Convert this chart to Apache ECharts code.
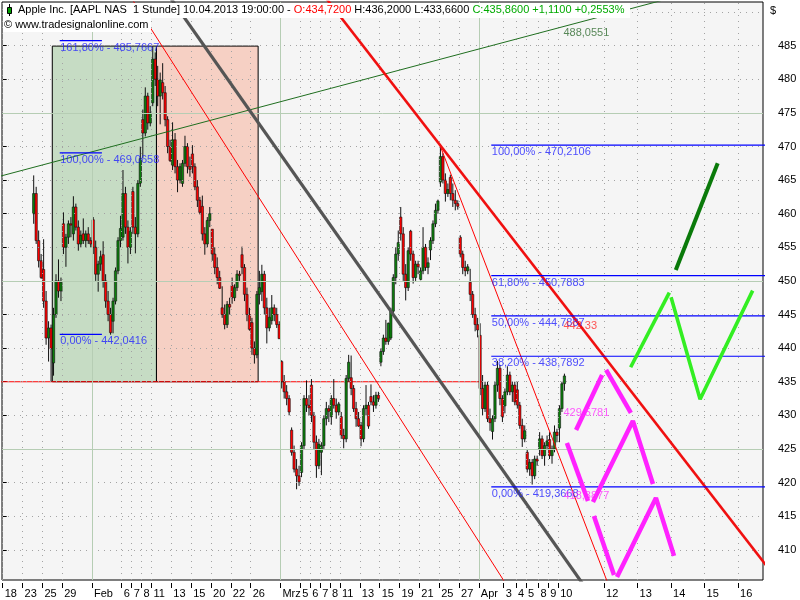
<!DOCTYPE html>
<html><head><meta charset="utf-8">
<script src="https://cdn.jsdelivr.net/npm/echarts@6/dist/echarts.min.js"></script>
<style>html,body{margin:0;padding:0;background:#fff}#c{width:800px;height:600px}</style>
</head><body><div id="c"></div>
<script>
// ---------- DATA ----------
const tradingDays = ['01-18','01-22','01-23','01-24','01-25','01-28','01-29','01-30','01-31','02-01','02-04','02-05','02-06','02-07','02-08','02-11','02-12','02-13','02-14','02-15','02-19','02-20','02-21','02-22','02-25','02-26','02-27','02-28','03-01','03-04','03-05','03-06','03-07','03-08','03-11','03-12','03-13','03-14','03-15','03-18','03-19','03-20','03-21','03-22','03-25','03-26','03-27','03-28','04-01','04-02','04-03','04-04','04-05','04-08','04-09','04-10'];
// intraday candles per trading day: [open, high, low, close]
const ohlcByDay = [
 [null,null,null,null],[null,null,null,null],[null,null,null,null],
 [[460.0,465.7,458.5,463.0],[463.0,464.0,455.5,456.0],[456.0,457.5,452.0,453.0],[453.0,454.0,450.3,450.5]],
 [[451.7,456.2,446.0,447.0],[447.0,448.5,440.5,441.5],[441.5,444.0,438.0,443.0],[443.0,443.5,435.0,439.9]],
 [[437.8,446.0,435.9,445.0],[445.0,451.0,444.5,450.0],[450.0,453.2,447.5,448.5],[448.5,450.5,447.0,449.8]],
 [[458.5,460.2,454.0,455.0],[455.0,457.0,452.1,456.5],[456.5,459.0,455.5,458.5],[458.5,459.5,456.5,458.3]],
 [[457.0,462.6,456.0,461.0],[461.0,461.5,457.5,458.0],[458.0,459.0,454.5,455.5],[455.5,457.5,455.0,456.8]],
 [[457.0,459.3,455.5,456.0],[456.0,457.5,455.0,457.0],[457.0,458.0,455.5,456.0],[456.0,456.5,455.0,455.5]],
 [[459.1,459.5,454.0,455.0],[455.0,456.0,450.0,451.0],[451.0,453.0,448.4,452.5],[452.5,454.5,451.5,453.6]],
 [[453.9,455.9,449.0,450.0],[450.0,451.0,446.0,447.0],[447.0,448.5,444.0,445.0],[445.0,446.0,442.0,442.3]],
 [[444.0,447.5,442.2,447.0],[447.0,452.0,446.5,451.5],[451.5,456.5,451.0,456.0],[456.0,459.7,455.0,457.8]],
 [[456.5,466.5,456.0,463.0],[463.0,464.0,457.0,458.0],[458.0,459.0,452.6,455.0],[455.0,458.0,454.0,457.4]],
 [[463.3,464.0,457.0,458.0],[458.0,459.5,454.1,457.0],[457.0,465.0,456.5,464.5],[464.5,470.0,464.0,468.2]],
 [[474.0,475.5,468.3,472.0],[472.0,478.8,471.5,477.5],[477.5,478.0,472.5,473.5],[473.5,476.0,473.0,475.0]],
 [[476.5,484.9,476.0,483.0],[483.0,484.0,479.0,480.0],[480.0,482.0,476.0,477.5],[477.5,481.0,473.3,479.9]],
 [[479.5,482.4,477.0,478.0],[478.0,479.0,473.0,474.0],[474.0,474.5,469.0,470.0],[470.0,471.0,467.7,467.9]],
 [[467.2,473.6,466.5,471.0],[471.0,472.0,466.0,467.0],[467.0,468.0,463.2,465.0],[465.0,467.5,464.5,467.0]],
 [[464.5,468.0,464.0,467.5],[467.5,471.6,467.0,470.0],[470.0,470.5,466.0,467.0],[467.0,468.5,465.5,466.6]],
 [[468.9,470.2,466.0,467.0],[467.0,467.5,463.5,464.0],[464.0,465.0,461.0,462.0],[462.0,462.5,459.9,460.2]],
 [[461.1,462.7,456.0,457.0],[457.0,458.0,453.9,455.5],[455.5,459.5,455.0,459.0],[459.0,461.0,458.0,460.0]],
 [[457.7,457.7,453.0,454.0],[454.0,455.0,451.0,452.0],[452.0,453.5,449.5,450.5],[450.5,451.5,448.8,448.9]],
 [[446.0,449.2,444.5,445.0],[445.0,446.5,442.8,443.5],[443.5,447.0,443.0,446.5],[446.5,447.5,445.0,446.1]],
 [[449.3,450.5,446.6,447.5],[447.5,449.5,447.0,449.0],[449.0,451.6,448.5,451.0],[451.0,451.5,450.0,450.8]],
 [[453.9,455.1,451.0,452.0],[452.0,452.5,447.0,448.0],[448.0,449.0,444.0,445.0],[445.0,446.0,442.6,442.8]],
 [[443.8,444.5,439.0,440.0],[440.0,441.0,437.7,439.0],[439.0,448.5,438.5,448.0],[448.0,451.5,446.5,449.0]],
 [[448.4,452.4,447.0,451.0],[451.0,451.5,445.0,446.0],[446.0,447.5,440.7,443.0],[443.0,446.0,442.5,444.6]],
 [[444.1,447.9,443.5,446.0],[446.0,446.5,444.0,445.0],[445.0,446.0,443.0,443.5],[443.5,444.0,441.4,441.4]],
 [[438.0,438.2,434.0,435.0],[435.0,436.0,432.5,433.5],[433.5,434.5,431.5,432.5],[432.5,433.0,430.0,430.5]],
 [[427.8,428.2,424.0,424.5],[424.5,425.5,421.5,422.0],[422.0,423.5,419.0,421.0],[421.0,422.5,419.5,420.1]],
 [[421.5,426.0,420.8,425.5],[425.5,433.0,425.0,432.5],[432.5,435.2,430.5,431.5],[431.5,433.0,430.0,431.1]],
 [[434.5,435.4,429.0,430.0],[430.0,430.5,425.0,426.0],[426.0,427.0,420.7,422.5],[422.5,426.5,422.0,425.7]],
 [[424.5,426.0,421.1,425.5],[425.5,430.0,425.0,429.5],[429.5,432.0,428.5,431.0],[431.0,431.5,429.0,430.6]],
 [[429.8,433.0,428.6,432.5],[432.5,435.4,431.0,431.5],[431.5,432.5,429.5,430.5],[430.5,432.0,430.0,431.7]],
 [[429.8,430.5,426.5,427.0],[427.0,428.0,425.1,426.5],[426.5,436.0,426.0,435.5],[435.5,439.0,435.0,437.9]],
 [[435.6,438.9,433.0,434.0],[434.0,434.5,430.5,431.0],[431.0,432.0,428.3,429.5],[429.5,430.5,428.3,428.4]],
 [[428.5,429.0,425.4,426.5],[426.5,431.5,426.0,431.0],[431.0,434.5,430.0,431.5],[431.5,432.0,428.0,428.4]],
 [[432.8,434.6,431.5,432.0],[432.0,433.0,430.5,431.5],[431.5,433.5,431.0,433.0],[433.0,433.5,432.0,432.5]],
 [[437.9,440.0,437.3,439.5],[439.5,442.0,439.0,441.5],[441.5,444.2,440.5,441.0],[441.0,443.8,440.5,443.7]],
 [[441.5,446.0,441.2,445.5],[445.5,451.0,445.0,450.5],[450.5,455.0,449.5,454.0],[454.0,457.5,453.0,455.7]],
 [[459.5,461.0,456.0,457.0],[457.0,458.0,450.0,451.0],[451.0,452.5,447.1,449.0],[449.0,455.0,448.5,454.5]],
 [[457.4,457.6,453.0,454.0],[454.0,454.5,449.6,450.5],[450.5,453.0,450.0,452.5],[452.5,453.0,451.0,452.1]],
 [[450.2,452.0,450.1,451.5],[451.5,458.0,451.0,455.0],[455.0,455.5,451.5,452.0],[452.0,453.5,451.0,452.7]],
 [[454.6,456.5,453.1,456.0],[456.0,459.0,455.5,458.5],[458.5,461.5,458.0,460.5],[460.5,462.1,460.0,461.9]],
 [[464.7,470.0,464.0,468.5],[468.5,469.0,464.5,465.0],[465.0,466.0,461.8,463.0],[463.0,464.5,462.5,463.6]],
 [[465.4,465.8,462.0,463.0],[463.0,464.5,461.0,462.0],[462.0,463.5,460.5,461.5],[461.5,462.0,460.6,461.1]],
 [[456.5,456.8,453.5,454.0],[454.0,454.5,451.0,452.0],[452.0,453.0,450.7,451.5],[451.5,452.5,451.0,452.1]],
 [[449.8,451.8,447.0,448.0],[448.0,448.5,444.5,445.0],[445.0,446.0,442.5,443.5],[443.5,444.5,441.6,442.7]],
 [[441.9,443.7,433.0,434.0],[434.0,436.0,430.0,431.0],[431.0,435.0,430.5,434.5],[434.5,435.0,429.0,429.5],[429.5,431.0,427.7,428.9]],
 [[427.6,430.0,426.4,429.5],[429.5,435.0,429.0,434.5],[434.5,438.1,433.5,437.0],[437.0,437.5,431.5,432.5],[432.5,433.0,429.0,429.8]],
 [[431.4,434.0,430.3,433.5],[433.5,437.3,433.0,436.0],[436.0,436.5,433.0,433.5],[433.5,435.0,432.0,434.5],[434.5,435.0,431.5,432.0]],
 [[433.8,435.0,431.0,431.5],[431.5,432.0,428.0,428.5],[428.5,429.5,425.3,426.5],[426.5,428.5,426.0,427.7]],
 [[424.5,425.0,421.5,422.0],[422.0,423.5,421.0,423.0],[423.0,423.5,419.7,421.0],[421.0,424.0,420.5,423.5],[423.5,424.0,422.5,423.2]],
 [[424.9,427.5,424.0,426.5],[426.5,427.0,423.5,424.0],[424.0,426.0,422.5,425.5],[425.5,427.0,425.0,426.2]],
 [[426.4,427.5,423.5,424.0],[424.0,425.5,422.8,425.0],[425.0,428.5,424.5,427.5],[427.5,428.0,426.0,427.0]],
 [[428.1,431.5,426.0,431.0],[431.0,435.0,430.5,434.7],[434.72,436.2,433.66,435.86]]
];
const tickDates = ['01-18','01-23','01-25','01-29','02-01','02-06','02-07','02-08','02-11','02-13','02-15','02-20','02-22','02-26','03-01','03-05','03-06','03-07','03-08','03-11','03-13','03-15','03-19','03-21','03-25','03-27','04-01','04-03','04-04','04-05','04-08','04-09','04-10'];
const tickTexts = ['18','23','25','29','Feb','6','7','8','11','13','15','20','22','26','Mrz','5','6','7','8','11','13','15','19','21','25','27','Apr','3','4','5','8','9','10'];
const monthDates = ['02-01','03-01','04-01'];
const futureTickTexts = ['12','13','14','15','16'];
const priceTicks = [410,415,420,425,430,435,440,445,450,455,460,465,470,475,480,485];
const dottedPrices = [410,415,420,430,435,440,445,455,460,465,470,480,485,490];
const solidPrices = [425,450,475];

// annotations in data units [bar index, price]
const boxes = [[20, 62, 435.0, 484.94, '#c6dcc4'], [62, 103, 435.0, 484.94, '#f6d0c4']];
const supportLine = [[-1, 435.0], [193.3, 435.0]];
const greenTrend = [[-5, 465.19], [270, 492.15]];
const greyTrend = [[60, 496.12], [240, 401.72]];
const thinRed1 = [[45, 496.06], [210, 400.82]];
const thinRed2 = [[176.5, 470.0], [246, 403.1]];
const thickRed = [[125, 494.63], [315, 404.28]];
const fibLeftLevels = [485.7667, 469.0658, 442.0416];
const fibLeftTexts = ['161,80% - 485,7667', '100,00% - 469,0658', '0,00% - 442,0416'];
const fibLeftRange = [23, 40];
const fibRightLevels = [470.2106, 450.7883, 444.7887, 438.7892, 419.3668];
const fibRightTexts = ['100,00% - 470,2106', '61,80% - 450,7883', '50,00% - 444,7887', '38,20% - 438,7892', '0,00% - 419,3668'];
const fibRightStart = 197;
const magentaPaths = [
  [[231.2,427.83],[241.7,436.01]], [[243.3,436.76],[253.3,430.36]],
  [[227.5,425.89],[236.0,417.26]], [[238.0,417.11],[254.1,429.17],[262.2,419.79]],
  [[238.4,415.03],[246.5,406.25]], [[247.7,405.95],[263.4,417.71],[270.7,409.08]]
];
const limePaths = [[[253.2,437.16],[268.8,448.26]], [[269.5,447.57],[281.2,432.40],[302.4,448.56]]];
const darkGreenPaths = [[[271.4,451.64],[288.3,467.51]]];
const valueLabels = [[225.9, 486.9, '488,0551', '#2f6b2f'], [225.9, 443.3, '442,33', '#ff2a2a'], [225.9, 430.4, '429,5781', '#ff33ff'], [225.9, 418.0, '418,3877', '#ff33ff']];

// ---------- LAYOUT ----------
const FONT = 'Liberation Sans';
const X_MIN = -0.28, X_MAX = 306.57;
const FUTURE_START = 229, FUTURE_DAY = 13.5;

const dayStart = {};
let idx = 0;
const candleData = [];
ohlcByDay.forEach((bars, d) => {
  dayStart[tradingDays[d]] = idx;
  bars.forEach(b => { if (b) candleData.push([idx + 0.5, b[0], b[1], b[2], b[3]]); idx++; });
});
const tickMap = {};
const tickVals = [];
tickDates.forEach((d, i) => { const v = dayStart[d]; tickVals.push(v); tickMap[v.toFixed(2)] = tickTexts[i]; });
futureTickTexts.forEach((t, i) => { const v = FUTURE_START + (i + 1) * FUTURE_DAY; tickVals.push(v); tickMap[v.toFixed(2)] = t; });
const monthVals = monthDates.map(d => dayStart[d]);
const dottedX = tickVals.filter(v => monthVals.indexOf(v) < 0);

function renderCandle(params, api) {
  const x = api.value(0), o = api.value(1), h = api.value(2), l = api.value(3), c = api.value(4);
  const pO = api.coord([x, o]), pC = api.coord([x, c]), pH = api.coord([x, h]), pL = api.coord([x, l]);
  const up = c >= o;
  const top = Math.min(pO[1], pC[1]), bot = Math.max(pO[1], pC[1]);
  const w = 2.3;
  return { type: 'group', children: [
    { type: 'line', shape: { x1: pH[0], y1: pH[1], x2: pL[0], y2: pL[1] }, style: { stroke: '#111', lineWidth: 1 } },
    { type: 'rect', shape: { x: pO[0] - w / 2, y: top, width: w, height: Math.max(bot - top, 1) }, style: { fill: up ? '#0c800c' : '#ff0000', stroke: '#111', lineWidth: 0.6 } }
  ]};
}

function lineSeries(pts, color, width, z) {
  return { type: 'line', data: pts, symbol: 'none', silent: true, z: z, clip: true,
    lineStyle: { color: color, width: width, cap: 'butt' } };
}

const series = [];
series.push(lineSeries(supportLine, '#ff0000', 1.2, 1));
series.push({ type: 'line', data: [], z: 2, silent: true, markArea: { silent: true, data: boxes.map(b => [
  { xAxis: b[0], yAxis: b[2], itemStyle: { color: b[4], borderColor: '#000', borderWidth: 1 } },
  { xAxis: b[1], yAxis: b[3] }]) } });
series.push({ type: 'line', data: [], z: 3, silent: true, markLine: { silent: true, symbol: 'none', label: { show: false },
  lineStyle: { color: '#a3a3a3', type: [1, 5], width: 1 },
  data: dottedPrices.map(v => ({ yAxis: v })).concat(dottedX.map(v => ({ xAxis: v }))) } });
series.push({ type: 'line', data: [], z: 3, silent: true, markLine: { silent: true, symbol: 'none', label: { show: false },
  lineStyle: { color: '#b6cdb4', type: 'solid', width: 1 },
  data: solidPrices.map(v => ({ yAxis: v })).concat(monthVals.map(v => ({ xAxis: v }))) } });
series.push({ type: 'custom', z: 4, silent: true, renderItem: renderCandle, data: candleData, encode: { x: 0, y: [1, 2, 3, 4] } });
series.push(lineSeries(greenTrend, '#1f6e1f', 1, 5));
series.push(lineSeries(thinRed1, '#ff0000', 1, 5));
series.push(lineSeries(thinRed2, '#ff0000', 1, 5));
series.push(lineSeries(greyTrend, '#555555', 3.2, 5));
series.push(lineSeries(thickRed, '#f01010', 2.6, 5));
fibLeftLevels.forEach(v => series.push(lineSeries([[fibLeftRange[0], v], [fibLeftRange[1], v]], '#0000ff', 1.2, 5)));
fibRightLevels.forEach(v => series.push(lineSeries([[fibRightStart, v], [X_MAX + 2, v]], '#0000ff', 1.2, 5)));
magentaPaths.forEach(p => series.push(lineSeries(p, '#ff22ff', 4.5, 6)));
limePaths.forEach(p => series.push(lineSeries(p, '#33ee22', 3.6, 6)));
darkGreenPaths.forEach(p => series.push(lineSeries(p, '#0a7a0a', 4, 6)));

const fibLabelData = fibLeftLevels.map((v, i) => [fibLeftRange[0], v, fibLeftTexts[i]])
  .concat(fibRightLevels.map((v, i) => [fibRightStart, v, fibRightTexts[i]]));
series.push({ type: 'scatter', z: 7, silent: true, symbolSize: 1, itemStyle: { color: 'rgba(0,0,0,0)' }, data: fibLabelData,
  label: { show: true, formatter: p => p.data[2], position: [1, 2], align: 'left', verticalAlign: 'top',
    color: '#2222ff', fontSize: 11, fontFamily: FONT } });
series.push({ type: 'scatter', z: 8, silent: true, symbolSize: 1, itemStyle: { color: 'rgba(0,0,0,0)' },
  data: valueLabels.map(d => ({ value: [d[0], d[1], d[2]], label: { color: d[3] } })),
  label: { show: true, formatter: p => p.value[2], position: 'right', distance: 0, fontSize: 11, fontFamily: FONT } });

const headerRich = {
  b: { fill: '#000', color: '#000', fontSize: 11, fontFamily: FONT },
  r: { fill: '#ff0000', color: '#ff0000', fontSize: 11, fontFamily: FONT },
  g: { fill: '#00aa00', color: '#00aa00', fontSize: 11, fontFamily: FONT }
};

const option = {
  animation: false,
  backgroundColor: '#ffffff',
  textStyle: { fontFamily: FONT, fontSize: 11 },
  grid: { left: 2, right: 37, top: 2, bottom: 20, show: true, backgroundColor: '#f5f5f5', borderColor: '#000', borderWidth: 1, outerBoundsMode: 'none', containLabel: false },
  xAxis: { type: 'value', min: X_MIN, max: X_MAX, offset: 3,
    axisLine: { show: false }, splitLine: { show: false },
    axisTick: { show: true, length: 5, customValues: tickVals, lineStyle: { color: '#000' } },
    axisLabel: { show: true, customValues: tickVals, hideOverlap: false, margin: 5, align: 'left', padding: [0, 0, 0, 2],
      color: '#000', fontSize: 11, fontFamily: FONT, formatter: v => tickMap[Number(v).toFixed(2)] || '' } },
  yAxis: { type: 'value', position: 'right', min: 405.5, max: 491.5, offset: 10,
    axisLine: { show: false }, splitLine: { show: false },
    axisTick: { show: true, length: 4, customValues: priceTicks, lineStyle: { color: '#000' } },
    axisLabel: { show: true, customValues: priceTicks, margin: 5, color: '#000', fontSize: 11, fontFamily: FONT } },
  graphic: [
    { type: 'rect', z: 100, shape: { x: 3, y: 3, width: 627, height: 15 }, style: { fill: '#ffffff' } },
    { type: 'line', z: 101, shape: { x1: 9.5, y1: 4, x2: 9.5, y2: 16 }, style: { stroke: '#000', lineWidth: 1 } },
    { type: 'rect', z: 102, shape: { x: 7.5, y: 7.5, width: 4, height: 6 }, style: { fill: '#00a000', stroke: '#000', lineWidth: 1 } },
    { type: 'text', z: 101, x: 18, y: 10, style: { text: '{b|Apple Inc. [AAPL NAS  1 Stunde] 10.04.2013 19:00:00 - }{r|O:434,7200 }{b|H:436,2000 L:433,6600 }{g|C:435,8600 +1,1100 +0,2553%}',
      rich: headerRich, verticalAlign: 'middle', fontSize: 11, fontFamily: FONT } },
    { type: 'rect', z: 100, shape: { x: 3, y: 18, width: 148, height: 14 }, style: { fill: '#ffffff' } },
    { type: 'text', z: 101, x: 4, y: 25, style: { text: '\u00a9 www.tradesignalonline.com', fill: '#000', verticalAlign: 'middle', fontSize: 11, fontFamily: FONT } },
    { type: 'text', z: 101, x: 770, y: 11, style: { text: '$', fill: '#000', verticalAlign: 'middle', fontSize: 11, fontFamily: FONT } }
  ],
  series: series
};

const chart = echarts.init(document.getElementById('c'), null, { renderer: 'canvas', width: 800, height: 600 });
chart.setOption(option);
</script>
</body></html>
